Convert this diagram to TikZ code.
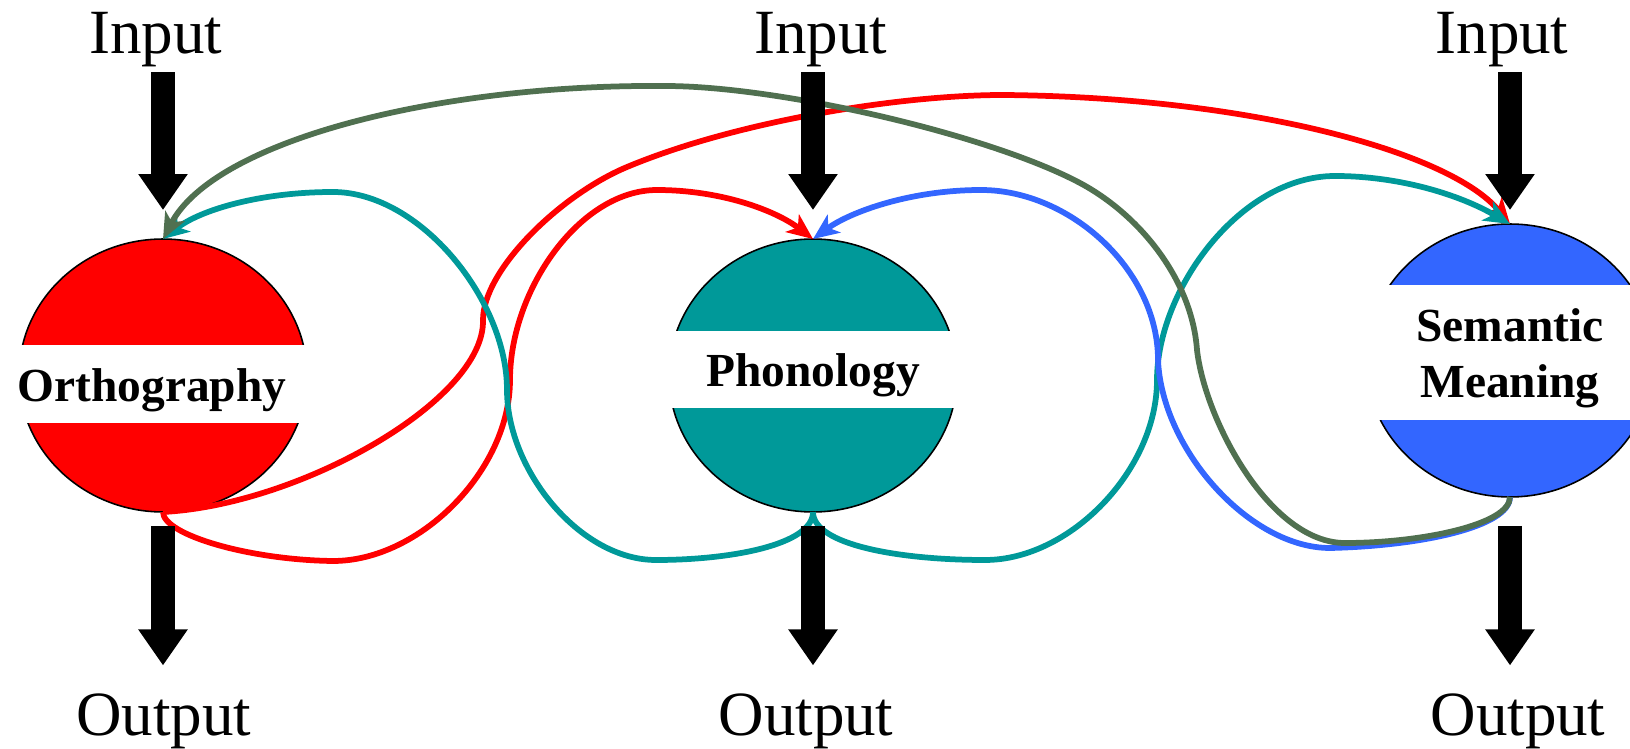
\documentclass[tikz,border=0pt]{standalone}
\usepackage{fontspec}
\setmainfont{Liberation Serif}
\usepackage{xcolor}
\usepackage{tikz}
\usetikzlibrary{arrows.meta,positioning,shapes.geometric}
\definecolor{orthred}{RGB}{255,0,0}
\definecolor{phonteal}{RGB}{0,153,153}
\definecolor{semblue}{RGB}{51,102,255}
\definecolor{linkgreen}{RGB}{80,112,80}
\tikzset{
  unit/.style={ellipse,draw,line width=0.9pt,minimum width=5.76cm,minimum height=5.46cm,inner sep=0pt,outer sep=0pt},
  band/.style={fill=white,minimum width=5.8cm,inner sep=0pt},
  lbl/.style={font=\fontsize{27pt}{32pt}\selectfont\bfseries,inner sep=0pt,anchor=base},
  io/.style={font=\fontsize{35.85pt}{40pt}\selectfont,inner sep=0pt,anchor=base},
  flow/.style={line width=0.48cm,-{Triangle[width=0.94cm,length=0.72cm]}},
  link/.style={line width=0.115cm,-{Stealth[length=0.52cm,width=0.44cm,inset=0.14cm]}},
}

\begin{document}
\begin{tikzpicture}[x=0.02cm,y=-0.02cm]
  \useasboundingbox (0,0) rectangle (1630,749);
  % the three units
  \node[unit,fill=orthred] (orth) at (163,375.5){};
  \node[unit,fill=phonteal] (phon) at (813,375.5){};
  \node[unit,fill=semblue] (sem) at (1510,360.5){};
  \node[band,minimum height=1.56cm] (orthband) at (163,384){};
  \node[band,minimum height=1.54cm] (phonband) at (813,369.5){};
  \node[band,minimum height=2.7cm] (semband) at (1510,352.5){};
  \node[lbl] (orthtxt) at (152,402){Orthography};
  \node[lbl] (phontxt) at (813,387){Phonology};
  \node[lbl] (semtxt) at (1510,342){Semantic};
  \node[lbl] (semtxtb) at (1510,398){Meaning};
  % inputs and outputs
  \node[io] (in1) at (156,54){Input};
  \node[io] (in2) at (821,54){Input};
  \node[io] (in3) at (1502,54){Input};
  \node[io] (out1) at (164,735){Output};
  \node[io] (out2) at (806,735){Output};
  \node[io] (out3) at (1518,735){Output};
  % feedback links
  \draw[link,orthred] (orth.south) .. controls (163,535) and (250,560) .. (333,561)
    .. controls (420,561) and (510,470) .. (510,380)
    .. controls (510,290) and (580,190) .. (657,190)
    .. controls (720,190) and (775,210) .. (phon.north);
  \draw[link,orthred] (orth.south) .. controls (300,505) and (485,400) .. (483,320)
    .. controls (483,270) and (560,195) .. (627,167)
    .. controls (737,121) and (900,95) .. (1003,95)
    .. controls (1250,97) and (1450,152) .. (sem.north);
  \draw[link,phonteal] (phon.south) .. controls (813,545) and (730,560) .. (656,560)
    .. controls (580,560) and (507,470) .. (507,390)
    .. controls (507,300) and (420,192) .. (333,192)
    .. controls (260,192) and (200,210) .. (orth.north);
  \draw[link,phonteal] (phon.south) .. controls (813,545) and (900,560) .. (985,560)
    .. controls (1070,560) and (1157,470) .. (1157,380)
    .. controls (1157,290) and (1240,176) .. (1335,176)
    .. controls (1400,176) and (1460,195) .. (sem.north);
  \draw[link,semblue] (sem.south) .. controls (1510,527) and (1420,546) .. (1330,548)
    .. controls (1250,548) and (1162,450) .. (1158,360)
    .. controls (1158,270) and (1070,190) .. (981,190)
    .. controls (910,190) and (850,212) .. (phon.north);
  \draw[link,linkgreen] (sem.south) .. controls (1510,525) and (1420,543) .. (1345,543)
    .. controls (1270,543) and (1205,420) .. (1197,350)
    .. controls (1192,280) and (1140,215) .. (1080,183)
    .. controls (990,135) and (780,86) .. (665,86)
    .. controls (440,84) and (215,140) .. (orth.north);
  % big arrows
  \draw[flow,shorten <=0.09cm,shorten >=0.58cm] (in1.south -| orth.north) -- (orth.north);
  \draw[flow,shorten <=0.09cm,shorten >=0.58cm] (in2.south -| phon.north) -- (phon.north);
  \draw[flow,shorten <=0.09cm,shorten >=0.28cm] (in3.south -| sem.north) -- (sem.north);
  \draw[flow,shorten <=0.28cm,shorten >=0.55cm] (orth.south) -- (out1.north -| orth.south);
  \draw[flow,shorten <=0.28cm,shorten >=0.55cm] (phon.south) -- (out2.north -| phon.south);
  \draw[flow,shorten <=0.58cm,shorten >=0.55cm] (sem.south) -- (out3.north -| sem.south);
\end{tikzpicture}
\end{document}
